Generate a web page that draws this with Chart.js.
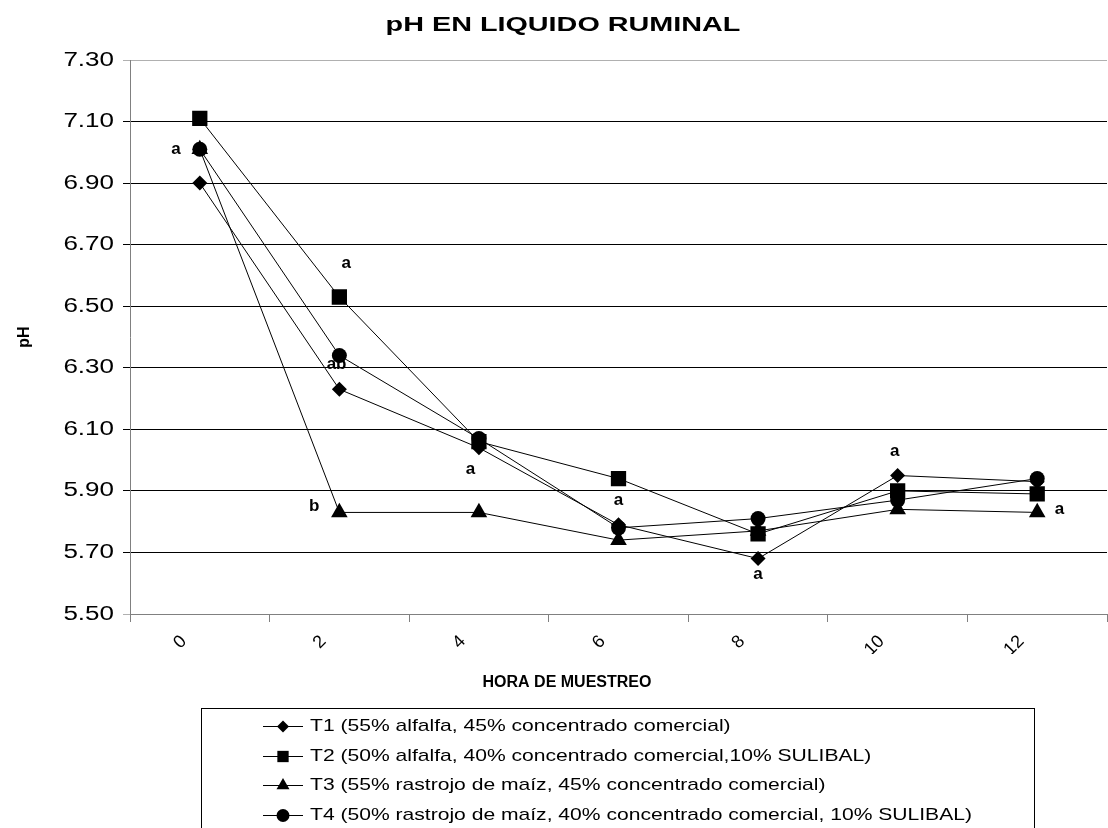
<!DOCTYPE html>
<html>
<head>
<meta charset="utf-8">
<script src="https://cdn.jsdelivr.net/npm/chart.js@4/dist/chart.umd.min.js"></script>
<style>
  html, body { margin: 0; padding: 0; background: #fff; }
</style>
</head>
<body>
<canvas id="chart" width="1108" height="828"></canvas>
<script>
const hours = ["0", "2", "4", "6", "8", "10", "12"]

const t1 = [6.90, 6.23, 6.04, 5.79, 5.68, 5.95, 5.93]
const t2 = [7.11, 6.53, 6.06, 5.94, 5.76, 5.90, 5.89]
const t3 = [7.01, 5.83, 5.83, 5.74, 5.77, 5.84, 5.83]
const t4 = [7.01, 6.34, 6.07, 5.78, 5.81, 5.87, 5.94]

const seriesNames = [
  "T1 (55% alfalfa, 45% concentrado comercial)",
  "T2 (50% alfalfa, 40% concentrado comercial,10% SULIBAL)",
  "T3 (55% rastrojo de maíz, 45% concentrado comercial)",
  "T4 (50% rastrojo de maíz, 40% concentrado comercial, 10% SULIBAL)"
]

// letras de significancia: posición en la hora (índice) y en pH
const noteText = ["a", "a", "ab", "b", "a", "a", "a", "a", "a"]
const noteHour = [-0.17, 1.05, 0.98, 0.82, 1.94, 3.0, 4.0, 4.98, 6.16]
const notePH   = [7.01, 6.64, 6.31, 5.85, 5.97, 5.87, 5.63, 6.03, 5.84]

const yMin  = 5.5
const yMax  = 7.3
const yStep = 0.2

const chartTitle = "pH EN LIQUIDO RUMINAL"
const xTitle     = "HORA DE MUESTREO"
const yTitle     = "pH"

const FONT = "'Liberation Sans', Arial, sans-serif"
Chart.defaults.font.family = FONT
Chart.defaults.color = "#000"

const markers = [
  { style: "rectRot",  radius: 7.5, legendRadius: 6 },
  { style: "rect",     radius: 10.8, legendRadius: 8 },
  { style: "triangle", radius: 9.6, legendRadius: 7.5 },
  { style: "circle",   radius: 7.5, legendRadius: 6.5 }
]

const series = [t1, t2, t3, t4]

// the original export has its text a little wider than normal
function wideText(ctx, txt, x, y, sx) {
  ctx.save()
  ctx.translate(x, y)
  ctx.scale(sx, 1)
  ctx.fillText(txt, 0, 0)
  ctx.restore()
}

const texts = {
  id: "texts",
  afterDraw(chart) {
    const { ctx, scales: { y } } = chart
    ctx.save()
    ctx.fillStyle = "#000"
    ctx.textBaseline = "middle"

    ctx.textAlign = "center"
    ctx.font = `bold 21px ${FONT}`
    wideText(ctx, chartTitle, 563, 25, 1.37)

    ctx.font = `bold 16px ${FONT}`
    ctx.fillText(xTitle, 567, 683)

    // y tick labels, placed by the y scale
    ctx.textAlign = "right"
    ctx.font = `20px ${FONT}`
    y.ticks.forEach(t => {
      wideText(ctx, Number(t.value).toFixed(2), 114, y.getPixelForValue(t.value), 1.3)
    })
    ctx.restore()
  }
}

const notesPlugin = {
  id: "notes",
  afterDatasetsDraw(chart) {
    const { ctx, scales: { x, y } } = chart
    ctx.save()
    ctx.font = `bold 17px ${FONT}`
    ctx.fillStyle = "#000"
    ctx.textAlign = "center"
    ctx.textBaseline = "middle"
    noteText.forEach((txt, i) => {
      ctx.fillText(txt, x.getPixelForValue(noteHour[i]), y.getPixelForValue(notePH[i]))
    })
    ctx.restore()
  }
}

const boxLegend = {
  id: "boxLegend",
  afterDraw(chart) {
    const { ctx } = chart
    const left = 201, right = 1034, top = 708
    const rowY = 726, rowGap = 29.5
    ctx.save()
    ctx.strokeStyle = "#000"
    ctx.lineWidth = 1
    ctx.strokeRect(left + 0.5, top + 0.5, right - left, 250)
    ctx.font = `17px ${FONT}`
    ctx.textBaseline = "middle"
    ctx.textAlign = "left"
    ctx.fillStyle = "#000"
    chart.data.datasets.forEach((ds, i) => {
      const yy = Math.round(rowY + i * rowGap) + 0.5
      ctx.beginPath()
      ctx.moveTo(263, yy)
      ctx.lineTo(303, yy)
      ctx.stroke()
      Chart.helpers.drawPoint(ctx, {
        pointStyle: markers[i].style,
        radius: markers[i].legendRadius,
        rotation: 0,
        borderWidth: 0
      }, 283, yy)
      wideText(ctx, ds.label, 310, yy, 1.24)
    })
    ctx.restore()
  }
}

new Chart(document.getElementById("chart"), {
  type: "line",
  data: {
    labels: hours,
    datasets: series.map((vals, i) => ({
      label: seriesNames[i],
      data: vals,
      borderColor: "#000",
      borderWidth: 1,
      backgroundColor: "#000",
      pointStyle: markers[i].style,
      pointRadius: markers[i].radius,
      pointHoverRadius: markers[i].radius,
      pointBackgroundColor: "#000",
      pointBorderColor: "#000",
      pointBorderWidth: 0,
      tension: 0,
      fill: false
    }))
  },
  options: {
    responsive: false,
    animation: false,
    layout: { autoPadding: false, padding: { top: 60, left: 0, right: 1, bottom: 174 } },
    plugins: {
      legend: { display: false },
      tooltip: { enabled: false },
      title: { display: false }
    },
    scales: {
      x: {
        offset: true,
        grid: {
          offset: true,
          drawOnChartArea: false,
          tickLength: 8,
          color: "#808080"
        },
        border: { color: "#808080" },
        ticks: { minRotation: 45, maxRotation: 45, padding: 9, labelOffset: -16, font: { size: 18 } },
        afterFit: s => { s.height = 40 }
      },
      y: {
        min: yMin,
        max: yMax,
        ticks: {
          display: false,
          stepSize: yStep,
          callback: v => Number(v).toFixed(2)
        },
        grid: {
          tickLength: 7,
          color: c => (c.tick && (c.tick.value >= yMax - 0.001 || c.tick.value <= yMin + 0.001)) ? "#b0b0b0" : "#000"
        },
        border: { color: "#808080" },
        title: {
          display: true,
          text: yTitle,
          font: { size: 16, weight: "bold" },
          padding: { top: 15, bottom: 0 }
        },
        afterFit: s => { s.width = 130 }
      }
    }
  },
  plugins: [notesPlugin, texts, boxLegend]
})
</script>
</body>
</html>
